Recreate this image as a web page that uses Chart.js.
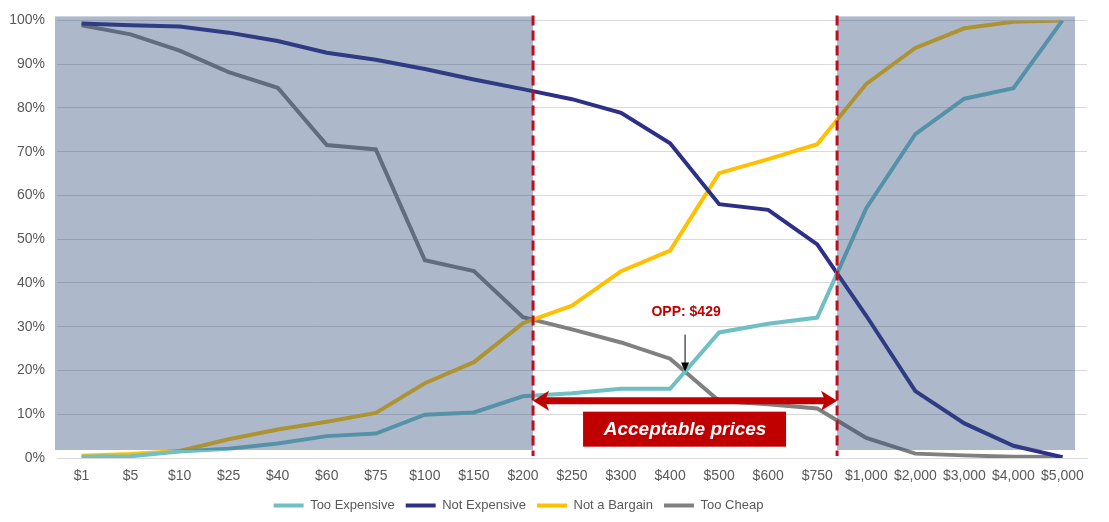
<!DOCTYPE html>
<html lang="en">
<head>
    <meta charset="UTF-8">
    <title>Price Sensitivity</title>
    <script src="https://cdn.jsdelivr.net/npm/chart.js"></script>
    <style>
        body {
            margin: 0;
            background: #ffffff;
        }
        .chart-box {
            width: 1109px;
            height: 522px;
        }
    </style>
</head>
<body>
    <div class="chart-box">
        <canvas id="priceChart"></canvas>
    </div>
    <script>
        // data
        const categories = ['$1', '$5', '$10', '$25', '$40', '$60', '$75', '$100', '$150', '$200', '$250',
            '$300', '$400', '$500', '$600', '$750', '$1,000', '$2,000', '$3,000', '$4,000', '$5,000'];
        const tooExpensive = [0.3, 0.4, 1.5, 2.1, 3.3, 5.0, 5.6, 9.9, 10.4, 14.1, 14.8, 15.8, 15.8, 28.7, 30.7, 32.1, 57.1, 74.0, 82.1, 84.5, 100];
        const notExpensive = [99.3, 98.9, 98.6, 97.2, 95.3, 92.6, 91.0, 88.9, 86.5, 84.3, 82.0, 78.9, 71.9, 58.0, 56.7, 48.8, 32.5, 15.3, 7.9, 2.8, 0.2];
        const notBargain = [0.5, 0.9, 1.6, 4.3, 6.5, 8.3, 10.3, 17.1, 21.9, 30.8, 34.8, 42.7, 47.4, 65.1, 68.3, 71.7, 85.5, 93.7, 98.2, 99.7, 100];
        const tooCheap = [98.9, 96.8, 93.1, 88.2, 84.6, 71.5, 70.5, 45.2, 42.7, 32.2, 29.4, 26.4, 22.7, 13.0, 12.3, 11.3, 4.6, 1.0, 0.6, 0.3, 0.2];
        const yTicks = [0, 10, 20, 30, 40, 50, 60, 70, 80, 90, 100];
        const oppLabel = 'OPP: $429';
        const rangeLabel = 'Acceptable prices';

        const red = '#c00000';

        // fractional category index where series a and b cross
        function crossing(a, b) {
            for (let i = 0; i < a.length - 1; i++) {
                let d0 = a[i] - b[i];
                let d1 = a[i + 1] - b[i + 1];
                if (d0 >= 0 && d1 < 0 || d0 <= 0 && d1 > 0) {
                    let t = d0 / (d0 - d1);
                    return {i: i, t: t, v: a[i] + (a[i + 1] - a[i]) * t};
                }
            }
            return null;
        }

        function xAt(scale, c) {
            let p0 = scale.getPixelForValue(c.i);
            let p1 = scale.getPixelForValue(c.i + 1);
            return p0 + (p1 - p0) * c.t;
        }

        // legend sits a little left of centre in the original
        const legendShift = {
            id: 'legendShift',
            afterLayout(chart) {
                chart.legend.left -= 25;
                chart.legend.right -= 25;
            }
        };

        const annotations = {
            id: 'annotations',
            afterDatasetsDraw(chart) {
                let ctx = chart.ctx;
                let xs = chart.scales.x;
                let ys = chart.scales.y;
                let area = chart.chartArea;
                let pmc = xAt(xs, crossing(tooCheap, notBargain));
                let pme = xAt(xs, crossing(notExpensive, tooExpensive));
                let oppC = crossing(tooCheap, tooExpensive);
                let opp = xAt(xs, oppC);
                let top = ys.getPixelForValue(100);
                let bottom = ys.getPixelForValue(0);

                ctx.save();
                // shaded zones outside the acceptable range
                ctx.fillStyle = 'rgba(50, 80, 125, 0.4)';
                ctx.fillRect(area.left - 2, top - 4, pmc - area.left + 2, bottom - top - 4);
                ctx.fillRect(pme, top - 4, area.right - 12 - pme, bottom - top - 4);

                // dashed limits
                ctx.strokeStyle = '#b8101e';
                ctx.lineWidth = 3;
                ctx.setLineDash([10, 5]);
                [pmc, pme].forEach(function (x) {
                    ctx.beginPath();
                    ctx.moveTo(x, top - 5);
                    ctx.lineTo(x, bottom - 2);
                    ctx.stroke();
                });
                ctx.setLineDash([]);

                // double arrow
                let ay = ys.getPixelForValue(13.1);
                ctx.strokeStyle = red;
                ctx.fillStyle = red;
                ctx.lineWidth = 7;
                ctx.beginPath();
                ctx.moveTo(pmc + 12, ay);
                ctx.lineTo(pme - 12, ay);
                ctx.stroke();
                ctx.beginPath();
                ctx.moveTo(pmc, ay);
                ctx.lineTo(pmc + 16, ay - 10);
                ctx.lineTo(pmc + 12, ay);
                ctx.lineTo(pmc + 16, ay + 10);
                ctx.closePath();
                ctx.fill();
                ctx.beginPath();
                ctx.moveTo(pme, ay);
                ctx.lineTo(pme - 16, ay - 10);
                ctx.lineTo(pme - 12, ay);
                ctx.lineTo(pme - 16, ay + 10);
                ctx.closePath();
                ctx.fill();

                // label box
                let mid = (pmc + pme) / 2;
                ctx.fillRect(mid - 102, ay + 11, 203, 35);
                ctx.fillStyle = '#ffffff';
                ctx.font = 'italic bold 19px "Liberation Sans", Arial, sans-serif';
                ctx.textAlign = 'center';
                ctx.textBaseline = 'middle';
                ctx.fillText(rangeLabel, mid, ay + 29);

                // OPP pointer
                let oy = ys.getPixelForValue(oppC.v);
                ctx.strokeStyle = '#000000';
                ctx.fillStyle = '#000000';
                ctx.lineWidth = 1;
                ctx.beginPath();
                ctx.moveTo(opp, oy - 37);
                ctx.lineTo(opp, oy - 6);
                ctx.stroke();
                ctx.beginPath();
                ctx.moveTo(opp, oy);
                ctx.lineTo(opp - 4, oy - 9);
                ctx.lineTo(opp + 4, oy - 9);
                ctx.closePath();
                ctx.fill();

                ctx.fillStyle = red;
                ctx.font = 'bold 14px "Liberation Sans", Arial, sans-serif';
                ctx.fillText(oppLabel, opp + 1, oy - 59);
                ctx.restore();
            }
        };

        function series(label, data, color) {
            return {
                label: label,
                data: data,
                borderColor: color,
                backgroundColor: color,
                borderWidth: 4,
                pointRadius: 0,
                tension: 0,
                fill: false
            };
        }

        let ctx = document.getElementById('priceChart').getContext('2d');
        let priceChart = new Chart(ctx, {
            type: 'line',
            data: {
                labels: categories,
                datasets: [
                    series('Too Expensive', tooExpensive, '#6fbfc4'),
                    series('Not Expensive', notExpensive, '#2e3088'),
                    series('Not a Bargain', notBargain, '#ffc000'),
                    series('Too Cheap', tooCheap, '#808080')
                ]
            },
            options: {
                responsive: true,
                maintainAspectRatio: false,
                animation: false,
                layout: {
                    padding: {top: 16, right: 22, bottom: 0, left: 0}
                },
                plugins: {
                    legend: {
                        position: 'bottom',
                        labels: {
                            boxWidth: 30,
                            boxHeight: 4,
                            padding: 11,
                            color: '#595959',
                            font: {family: '"Liberation Sans", Arial, sans-serif', size: 13},
                            generateLabels(chart) {
                                let items = Chart.defaults.plugins.legend.labels.generateLabels(chart);
                                items.forEach(function (item) {
                                    item.lineWidth = 0;
                                });
                                return items;
                            }
                        }
                    },
                    tooltip: {enabled: false}
                },
                scales: {
                    x: {
                        offset: true,
                        grid: {display: false},
                        border: {display: true, color: '#d9d9d9'},
                        ticks: {
                            color: '#595959',
                            padding: 2,
                            maxRotation: 0,
                            autoSkip: false,
                            font: {family: '"Liberation Sans", Arial, sans-serif', size: 14}
                        },
                        afterFit(scale) {
                            scale.height = 30;
                        }
                    },
                    y: {
                        min: 0,
                        max: 100,
                        border: {display: false},
                        grid: {color: '#d9d9d9', drawTicks: false},
                        ticks: {
                            color: '#595959',
                            padding: 12,
                            font: {family: '"Liberation Sans", Arial, sans-serif', size: 14},
                            callback: function (v) {
                                return v + '%';
                            }
                        },
                        afterBuildTicks(scale) {
                            scale.ticks = yTicks.map(function (v) {
                                return {value: v};
                            });
                        },
                        afterFit(scale) {
                            scale.width = 57;
                        }
                    }
                }
            },
            plugins: [annotations, legendShift]
        });
    </script>
</body>
</html>
